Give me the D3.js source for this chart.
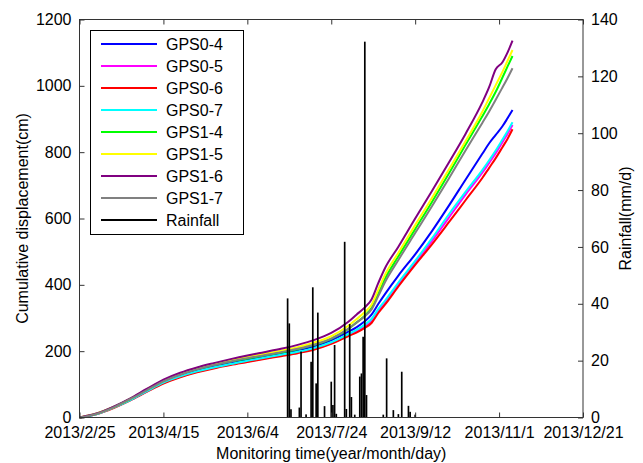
<!DOCTYPE html>
<html>
<head>
<meta charset="utf-8">
<script src="https://cdn.jsdelivr.net/npm/d3@7"></script>
<style>
html,body{margin:0;padding:0;background:#fff;}
svg{display:block;font-family:"Liberation Sans",Arial,sans-serif;}
</style>
</head>
<body>
<svg id="chart" width="643" height="463"></svg>
<script>
// ---- data (day index counted from 2013/2/25) ----
const xTickDays = [0, 50, 100, 150, 200, 250, 300];
const xTickLabels = ["2013/2/25", "2013/4/15", "2013/6/4", "2013/7/24", "2013/9/12", "2013/11/1", "2013/12/21"];
const leftTicks = [0, 200, 400, 600, 800, 1000, 1200];
const rightTicks = [0, 20, 40, 60, 80, 100, 120, 140];

const days = [0,10,20,30,40,50,60,70,80,90,100,110,120,130,140,150,160,165,170,174,178,182,190,200,210,220,230,240,244,248,252,255,258];

const gps04 = [0,11,30,54,81,107,127,142,154,165,175,184,193,203,215,233,258,272,290,310,342,372,428,492,562,638,717,795,826,852,878,902,927];
const gps05 = [0,10,29,52,78,104,123,138,150,160,169,178,187,196,207,224,248,260,275,291,321,346,401,466,532,602,672,738,767,797,830,855,882];
const gps06 = [0,10,28,51,77,102,121,136,148,158,167,176,185,194,205,222,245,256,270,285,315,340,395,460,522,588,655,722,752,782,815,840,869];
const gps07 = [0,10,29,52,79,105,124,139,151,161,171,180,189,198,210,227,251,264,280,297,327,352,407,472,540,612,680,746,775,805,838,863,890];
const gps14 = [0,11,31,55,83,110,130,146,158,169,178,187,196,206,219,237,266,286,307,330,373,418,486,568,650,735,822,908,944,982,1025,1058,1090];
const gps15 = [0,12,31,56,85,112,133,149,162,173,183,192,201,212,226,245,276,296,318,340,385,430,497,580,662,747,833,922,962,1002,1042,1075,1108];
const gps16 = [0,12,32,57,86,114,135,151,164,176,187,197,207,219,234,255,288,310,332,356,405,450,515,600,683,768,855,950,995,1050,1071,1100,1136];
const gps17 = [0,11,30,55,82,109,129,145,158,169,179,188,197,207,220,238,267,286,305,326,366,408,475,556,637,720,805,888,922,958,995,1023,1053];

const rainDays   = [124,125,126,131,132,135,138,139,141,142,146,150,151,152,153,158,159,161,162,164,167,168,169,170,171,181,183,187,190,192,196,197,200];
const rainValues = [41.9,33.1,2.9,3.5,23.2,1.1,19.6,45.8,12,36.9,4,12.6,4.4,25.5,1.3,61.8,3,32.9,7.2,1,14.4,15.5,28.4,132.2,7.9,1,20.8,2.6,1.2,16.1,4.1,2,1];

const seriesNames  = ["GPS0-4","GPS0-5","GPS0-6","GPS0-7","GPS1-4","GPS1-5","GPS1-6","GPS1-7"];
const seriesValues = [gps04, gps05, gps06, gps07, gps14, gps15, gps16, gps17];
const seriesColors = ["#0000ff","#ff00ff","#ff0000","#00ffff","#00ff00","#ffff00","#800080","#808080"];

// ---- layout ----
const svg = d3.select("#chart");
const L = 79.5, R = 583, T = 19.5, B = 417.5;
const axisColor = "#333";

const x = d3.scaleLinear().domain([0, 300]).range([L, R]);
const yL = d3.scaleLinear().domain([0, 1200]).range([B, T]);
const yR = d3.scaleLinear().domain([0, 140]).range([B, T]);

// lines
const line = d3.line().x(d => x(d[0])).y(d => yL(d[1])).curve(d3.curveMonotoneX);
const gLines = svg.append("g");
seriesValues.forEach((vals, i) => {
  gLines.append("path")
    .datum(days.map((d, k) => [d, vals[k]]))
    .attr("d", line)
    .attr("fill", "none")
    .attr("stroke", seriesColors[i])
    .attr("stroke-width", 2)
    .attr("stroke-linejoin", "round");
});

// rainfall bars
const barW = x(1) - x(0);
svg.append("g").selectAll("rect")
  .data(rainDays.map((d, i) => [d, rainValues[i]]))
  .join("rect")
  .attr("x", d => x(d[0]) - barW / 2)
  .attr("width", barW)
  .attr("y", d => yR(d[1]))
  .attr("height", d => B - yR(d[1]))
  .attr("fill", "#000");

// frame
svg.append("rect").attr("x", L).attr("y", T).attr("width", R - L).attr("height", B - T)
  .attr("fill", "none").attr("stroke", axisColor).attr("stroke-width", 1);

const tickLen = 5;
// bottom axis
const xAxis = d3.axisBottom(x).tickValues(xTickDays)
  .tickFormat((d, i) => xTickLabels[i]).tickSizeInner(-tickLen).tickSizeOuter(0).tickPadding(9);
const gx = svg.append("g").attr("transform", `translate(0,${B})`).call(xAxis);
// top ticks
const gxt = svg.append("g").attr("transform", `translate(0,${T})`)
  .call(d3.axisTop(x).tickValues(xTickDays).tickFormat("").tickSizeInner(-tickLen).tickSizeOuter(0));
// left axis
const gyl = svg.append("g").attr("transform", `translate(${L},0)`)
  .call(d3.axisLeft(yL).tickValues(leftTicks).tickFormat(d3.format("d")).tickSizeInner(-tickLen).tickSizeOuter(0).tickPadding(8));
// right axis
const gyr = svg.append("g").attr("transform", `translate(${R},0)`)
  .call(d3.axisRight(yR).tickValues(rightTicks).tickFormat(d3.format("d")).tickSizeInner(-tickLen).tickSizeOuter(0).tickPadding(8));

[gx, gxt, gyl, gyr].forEach(g => {
  g.select(".domain").remove();
  g.selectAll(".tick line").attr("stroke", axisColor);
  g.selectAll("text").attr("fill", "#000").style("font-size", "16px").style("font-family", '"Liberation Sans",Arial,sans-serif');
});
gx.selectAll("text").attr("dy", "0.71em");

// axis titles
svg.append("text").attr("x", (L + R) / 2).attr("y", 459)
  .attr("text-anchor", "middle").style("font-size", "16px").text("Monitoring time(year/month/day)");
svg.append("text").attr("transform", `translate(28,${(T + B) / 2}) rotate(-90)`)
  .attr("text-anchor", "middle").style("font-size", "16px").text("Cumulative displacement(cm)");
svg.append("text").attr("transform", `translate(631,${(T + B) / 2}) rotate(-90)`)
  .attr("text-anchor", "middle").style("font-size", "16px").text("Rainfall(mm/d)");

// legend
const legNames = seriesNames.concat(["Rainfall"]);
const legColors = seriesColors.concat(["#000"]);
const lg = svg.append("g");
lg.append("rect").attr("x", 90.5).attr("y", 30.5).attr("width", 153).attr("height", 204)
  .attr("fill", "#fff").attr("stroke", "#000").attr("stroke-width", 1);
legNames.forEach((n, i) => {
  const cy = 44 + i * 22;
  lg.append("line").attr("x1", 101).attr("x2", 157).attr("y1", cy).attr("y2", cy)
    .attr("stroke", legColors[i]).attr("stroke-width", 2.2);
  lg.append("text").attr("x", 166).attr("y", cy).attr("dy", "0.35em")
    .style("font-size", "16px").text(n);
});
</script>
</body>
</html>
